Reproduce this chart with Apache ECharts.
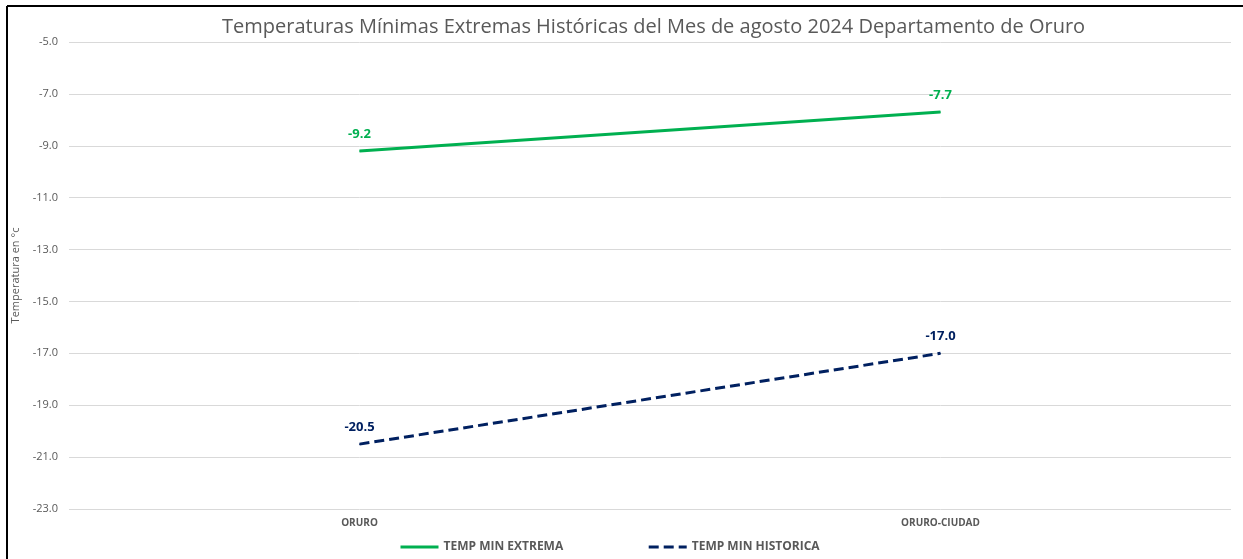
<!DOCTYPE html>
<html>
<head>
<meta charset="utf-8">
<script src="https://cdn.jsdelivr.net/npm/echarts@6/dist/echarts.min.js"></script>
<style>
html,body{margin:0;padding:0;background:#fff;}
#chart{width:1243px;height:559px;}
</style>
</head>
<body>
<div id="chart"></div>
<script>
const categories = ['ORURO', 'ORURO-CIUDAD'];
const tempMinExtrema = [-9.2, -7.7];
const tempMinHistorica = [-20.5, -17.0];
const seriesNames = ['TEMP MIN EXTREMA', 'TEMP MIN HISTORICA'];
const titleText = 'Temperaturas Mínimas Extremas Históricas del Mes de agosto 2024 Departamento de Oruro';
const yAxisName = 'Temperatura en °c';

const chart = echarts.init(document.getElementById('chart'), null, {renderer: 'canvas'});
const font = 'Open Sans';
chart.setOption({
  animation: false,
  backgroundColor: '#ffffff',
  textStyle: {fontFamily: font},
  title: {
    text: titleText,
    left: 217,
    top: 12,
    textStyle: {fontFamily: font, fontSize: 20, fontWeight: 'normal', color: '#595959'}
  },
  graphic: [
    {type: 'line', shape: {x1: 7, y1: 6, x2: 1243, y2: 6}, style: {stroke: '#000', lineWidth: 2}},
    {type: 'line', shape: {x1: 7, y1: 6, x2: 7, y2: 559}, style: {stroke: '#000', lineWidth: 2}}
  ],
  legend: {
    bottom: 1,
    left: 394,
    itemGap: 84,
    itemWidth: 38,
    itemHeight: 12,
    itemStyle: {opacity: 0},
    lineStyle: {width: 3},
    textStyle: {fontFamily: font, fontSize: 12, fontWeight: 'bold', color: '#595959'},
    data: seriesNames
  },
  grid: {left: 69, right: 12, top: 42, bottom: 50, containLabel: false},
  xAxis: {
    type: 'category',
    data: categories,
    boundaryGap: true,
    axisLine: {show: false},
    axisTick: {show: false},
    axisLabel: {margin: 9, fontSize: 10, fontWeight: 'bold', color: '#595959', fontFamily: font}
  },
  yAxis: {
    type: 'value',
    min: -23,
    max: -5,
    interval: 2,
    name: yAxisName,
    nameLocation: 'middle',
    nameGap: 46,
    nameTextStyle: {fontFamily: font, fontSize: 11, color: '#595959'},
    axisLine: {show: false},
    axisTick: {show: false},
    axisLabel: {formatter: v => v.toFixed(1), fontSize: 11, color: '#595959', margin: 11, fontFamily: font},
    splitLine: {lineStyle: {color: '#d9d9d9', width: 1}}
  },
  series: [
    {
      name: seriesNames[0],
      type: 'line',
      data: tempMinExtrema,
      showSymbol: true,
      symbol: 'circle',
      symbolSize: 1,
      lineStyle: {color: '#00B050', width: 3},
      itemStyle: {color: '#00B050'},
      label: {show: true, position: 'top', distance: 10, formatter: p => p.value.toFixed(1), color: '#00B050', fontWeight: 'bold', fontSize: 13, fontFamily: font}
    },
    {
      name: seriesNames[1],
      type: 'line',
      data: tempMinHistorica,
      showSymbol: true,
      symbol: 'circle',
      symbolSize: 1,
      lineStyle: {color: '#002060', width: 3, type: [10, 5]},
      itemStyle: {color: '#002060'},
      label: {show: true, position: 'top', distance: 10, formatter: p => p.value.toFixed(1), color: '#002060', fontWeight: 'bold', fontSize: 13, fontFamily: font}
    }
  ]
});
</script>
</body>
</html>
